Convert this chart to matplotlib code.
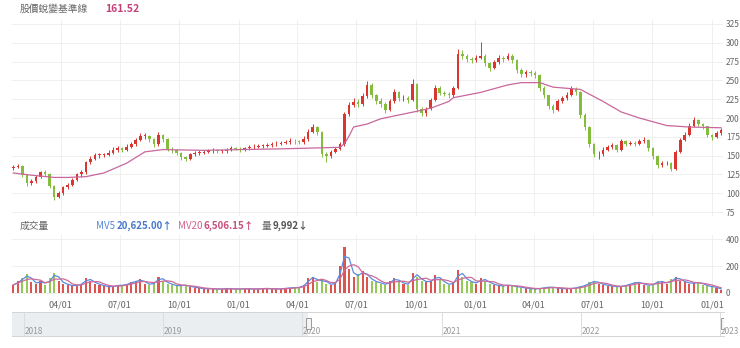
import matplotlib.pyplot as plt
import matplotlib.dates as mdates
import matplotlib.transforms as mtransforms
from matplotlib.patches import Rectangle
import numpy as np
import pandas as pd

plt.rcParams['font.family'] = ['Noto Sans CJK TC', 'DejaVu Sans']

# weekly candles, Jan 2020 - Jan 2023
first_open = 133
close = [135, 136, 124, 114, 116, 122, 128, 126, 110, 95,
         100, 108, 111, 118, 125, 128, 141, 146, 151, 151,
         151, 154, 158, 160, 158, 162, 165, 171, 176, 176,
         172, 165, 178, 172, 159, 157, 154, 148, 146, 152,
         154, 154, 155, 157, 157, 156, 156, 158, 160, 159,
         158, 160, 161, 162, 163, 163, 164, 165, 166, 167,
         168, 170, 169, 168, 172, 182, 188, 182, 152, 149,
         155, 159, 165, 205, 217, 221, 219, 229, 244, 230,
         223, 219, 211, 222, 234, 226, 227, 224, 245, 212,
         206, 212, 224, 240, 233, 232, 230, 240, 285, 282,
         278, 277, 280, 283, 273, 267, 274, 280, 279, 283,
         277, 264, 258, 261, 260, 257, 240, 230, 216, 211,
         222, 226, 231, 239, 235, 204, 188, 165, 152, 152,
         158, 161, 164, 158, 169, 166, 167, 166, 169, 171,
         160, 150, 138, 140, 140, 132, 155, 171, 178, 190,
         197, 192, 189, 178, 175, 180, 184]
high = [138, 139, 137, 126, 119, 124, 130, 131, 127, 111,
        103, 110, 114, 120, 127, 131, 143, 149, 154, 154,
        153, 157, 161, 163, 162, 165, 168, 174, 180, 180,
        178, 173, 181, 179, 173, 161, 159, 155, 150, 154,
        156, 157, 158, 159, 160, 159, 158, 160, 163, 162,
        161, 162, 164, 165, 165, 166, 167, 168, 169, 170,
        171, 173, 172, 171, 176, 185, 192, 189, 183, 155,
        158, 162, 168, 208, 221, 226, 225, 233, 249, 246,
        232, 226, 221, 225, 239, 236, 231, 229, 252, 247,
        214, 215, 227, 244, 242, 236, 234, 243, 292, 290,
        285, 281, 284, 301, 285, 275, 277, 284, 283, 287,
        285, 278, 266, 264, 264, 262, 258, 242, 231, 218,
        225, 229, 234, 243, 241, 236, 206, 189, 167, 156,
        161, 164, 167, 166, 172, 171, 170, 169, 172, 175,
        172, 161, 151, 143, 143, 141, 158, 174, 181, 193,
        201, 199, 194, 190, 179, 183, 187]
low = [131, 133, 121, 110, 111, 114, 120, 123, 107, 91,
       93, 98, 105, 109, 116, 122, 126, 139, 144, 147,
       148, 149, 152, 155, 155, 156, 160, 163, 169, 172,
       168, 161, 163, 168, 156, 154, 151, 144, 143, 144,
       150, 151, 152, 153, 154, 153, 153, 154, 156, 157,
       155, 156, 158, 159, 160, 160, 161, 162, 163, 164,
       165, 166, 166, 165, 166, 170, 180, 178, 148, 141,
       147, 153, 157, 163, 202, 214, 214, 216, 226, 227,
       219, 215, 206, 209, 220, 222, 223, 220, 222, 208,
       202, 203, 210, 222, 230, 229, 227, 228, 238, 278,
       274, 273, 275, 278, 269, 263, 265, 272, 275, 277,
       273, 260, 254, 255, 256, 253, 236, 226, 212, 207,
       209, 220, 224, 229, 231, 200, 184, 161, 148, 146,
       150, 156, 159, 155, 156, 163, 164, 163, 164, 167,
       156, 146, 134, 135, 137, 129, 131, 153, 169, 176,
       188, 189, 186, 175, 171, 173, 178]
# thousand lots
volume = [60, 90, 110, 140, 80, 70, 90, 60, 110, 150,
          90, 70, 60, 50, 60, 70, 110, 90, 70, 60,
          50, 45, 50, 60, 55, 70, 80, 90, 100, 70,
          60, 80, 120, 90, 70, 60, 50, 60, 55, 45,
          40, 35, 30, 32, 30, 28, 30, 35, 30, 28,
          30, 32, 30, 28, 30, 35, 32, 30, 28, 32,
          35, 40, 38, 45, 60, 110, 120, 80, 100, 70,
          60, 80, 200, 340, 180, 120, 140, 160, 120, 90,
          80, 70, 60, 90, 110, 80, 70, 60, 150, 120,
          90, 80, 90, 130, 100, 70, 60, 80, 170, 120,
          90, 80, 70, 110, 90, 70, 60, 50, 55, 60,
          50, 45, 40, 35, 30, 30, 35, 40, 45, 40,
          35, 30, 32, 35, 40, 50, 60, 80, 90, 70,
          60, 55, 50, 45, 50, 60, 70, 80, 75, 60,
          55, 70, 90, 80, 70, 100, 120, 90, 80, 70,
          75, 80, 60, 50, 45, 40, 20]

# base line, sampled at week numbers
base_week = [0, 4, 9, 12, 16, 20, 25, 29, 33, 42,
             50, 59, 72, 73, 74, 75, 78, 81, 89, 92,
             96, 97, 103, 109, 112, 116, 119, 125, 130, 134,
             138, 144, 149, 156]
base_val = [127, 124, 121, 121, 122, 127, 140, 155, 158, 157,
            158, 159, 161, 166, 176, 188, 192, 199, 209, 213,
            222, 227, 234, 244, 247, 247, 241, 238, 222, 208,
            200, 190, 188, 187]

price_ticks = [75, 100, 125, 150, 175, 200, 225, 250, 275, 300, 325]
vol_ticks = [0, 200, 400]
nav_years = [2018, 2019, 2020, 2021, 2022, 2023]

base_label = "股價蛻變基準線"
base_last = "161.52"
mv5_last = "20,625.00↑"
mv20_last = "6,506.15↑"
vol_last = "9,992↓"

W, H = 740, 348
UP, DOWN = "#d93630", "#84bd3c"
GRID = "#ededed"
TXT = "#666666"


def box(x0, y0, x1, y1):
    return [x0 / W, 1 - y1 / H, (x1 - x0) / W, (y1 - y0) / H]


dates = pd.date_range("2020-01-19", periods=len(close), freq="7D")
opens = [first_open] + close[:-1]
colors = [UP if c >= o else DOWN for o, c in zip(opens, close)]
body_lo = np.minimum(opens, close)
body_h = np.maximum(np.abs(np.array(close) - np.array(opens)), 0.8)
quarters = pd.date_range("2020-04-01", "2023-01-01", freq="QS")
x0, x1 = pd.Timestamp("2020-01-17"), pd.Timestamp("2023-01-18")

fig = plt.figure(figsize=(W / 100, H / 100), dpi=100)

# price panel
ax = fig.add_axes(box(12, 20.2, 723, 215.8))
ax.vlines(dates, low, high, colors=colors, lw=0.7)
ax.bar(dates, body_h, bottom=body_lo, width=4.0, color=colors, lw=0)
ax.plot(dates[base_week], base_val, color="#c8679c", lw=0.9)
ax.set_xlim(x0, x1)
ax.set_ylim(70, 330)
ax.set_yticks(price_ticks)
ax.set_xticks(quarters)
ax.tick_params(labelbottom=False, length=0)
ax.yaxis.tick_right()
ax.tick_params(axis="y", labelsize=6, labelcolor=TXT, pad=2)
ax.grid(True, color=GRID, lw=0.6)
ax.set_axisbelow(True)
for s in ax.spines.values():
    s.set_visible(False)

# volume panel
axv = fig.add_axes(box(12, 235, 723, 295))
axv.bar(dates, volume, width=3.2, color=colors, alpha=0.85, lw=0)
vs = pd.Series(volume, index=dates)
axv.plot(dates, vs.rolling(2, min_periods=1).mean(), color="#5a8be0", lw=0.9)
axv.plot(dates, vs.rolling(4, min_periods=1).mean(), color="#cf6b9a", lw=0.9)
axv.set_xlim(x0, x1)
axv.set_ylim(-15, 430)
axv.set_yticks(vol_ticks)
axv.set_xticks(quarters)
axv.xaxis.set_major_formatter(mdates.DateFormatter("%m/%d"))
axv.yaxis.tick_right()
axv.tick_params(length=0, labelsize=6, labelcolor=TXT, pad=2)
axv.tick_params(axis="x", labelsize=6.5, pad=4)
axv.grid(True, color=GRID, lw=0.6)
axv.set_axisbelow(True)
for s in axv.spines.values():
    s.set_visible(False)

# navigator strip
axn = fig.add_axes(box(12, 312, 724, 336))
n0, n1 = pd.Timestamp("2017-12-01"), pd.Timestamp("2023-01-11")
axn.set_xlim(n0, n1)
axn.set_ylim(0, 1)
axn.axvspan(n0, x0, color="#ebeef1", lw=0)
for yr in nav_years:
    d = pd.Timestamp(f"{yr}-01-01")
    axn.axvline(d, color="#dcdcdc", lw=0.7)
    axn.text(d + pd.Timedelta(days=2), 0.2, str(yr), fontsize=6,
             color="#999999", va="center", clip_on=False)
trans = mtransforms.blended_transform_factory(axn.transData, axn.transAxes)
for d in (x0, x1 - pd.Timedelta(days=8)):
    axn.add_patch(Rectangle((mdates.date2num(d) - 6, 0.3), 12, 0.45,
                            transform=trans, facecolor="#f4f4f4",
                            edgecolor="#999999", lw=0.7, zorder=5))
axn.set_xticks([])
axn.set_yticks([])
for k, s in axn.spines.items():
    s.set_color("#d4d4d4")
    s.set_linewidth(0.7)
    if k in ("left", "right"):
        s.set_visible(False)

# header lines
fig.text(20 / W, 1 - 9 / H, base_label, fontsize=7, color=TXT, va="center")
fig.text(105 / W, 1 - 9 / H, base_last, fontsize=7.5, color="#c2417a",
         weight="bold", va="center")
fig.text(20 / W, 1 - 226 / H, "成交量", fontsize=7, color=TXT, va="center")
fig.text(96 / W, 1 - 226 / H, "MV5", fontsize=7, color="#5a85d6", va="center")
fig.text(117 / W, 1 - 226 / H, mv5_last, fontsize=7, color="#4a78cc",
         weight="bold", va="center")
fig.text(178 / W, 1 - 226 / H, "MV20", fontsize=7, color="#d0648e", va="center")
fig.text(204 / W, 1 - 226 / H, mv20_last, fontsize=7, color="#c8507f",
         weight="bold", va="center")
fig.text(262 / W, 1 - 226 / H, "量", fontsize=7, color=TXT, va="center")
fig.text(273 / W, 1 - 226 / H, vol_last, fontsize=7, color="#555555",
         weight="bold", va="center")

fig.savefig("out.png", dpi=100)
